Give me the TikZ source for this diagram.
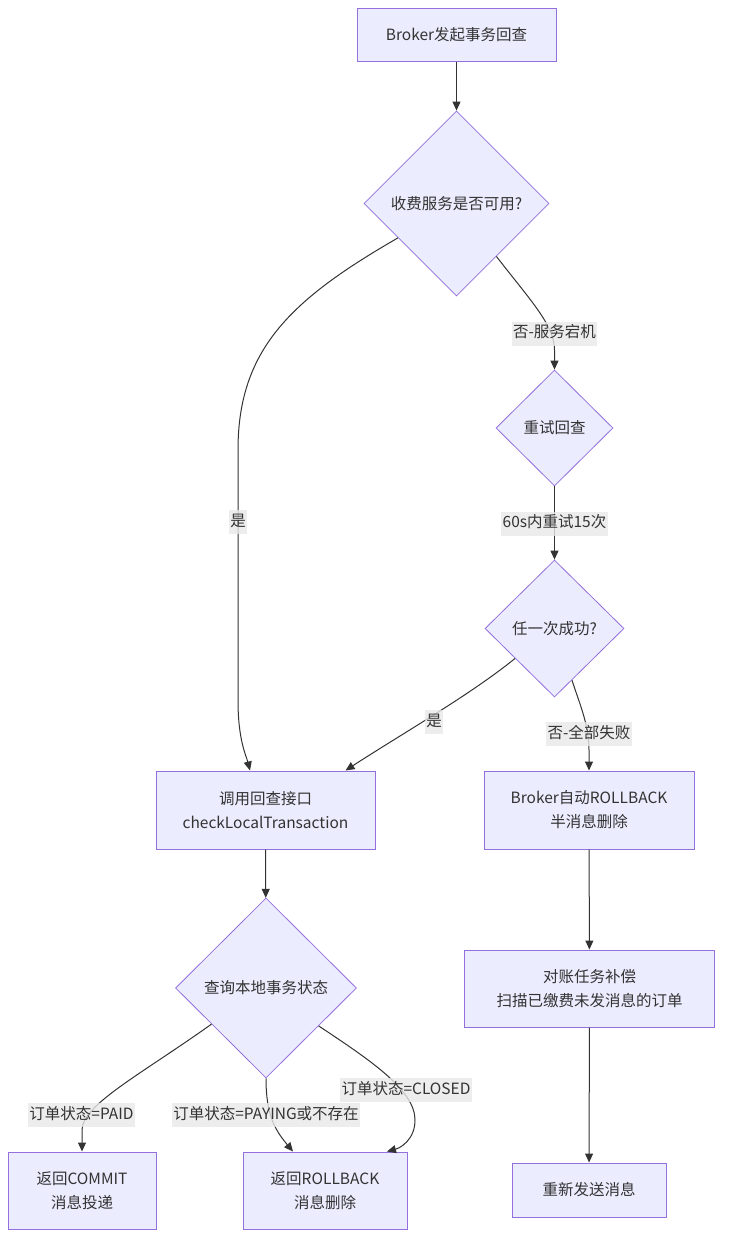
\documentclass[tikz,border=0pt]{standalone}
\usepackage{fontspec}
\setmainfont{Noto Sans CJK SC}
\usetikzlibrary{shapes.geometric,arrows.meta,calc}
\definecolor{nodefill}{HTML}{ECECFF}
\definecolor{nodedraw}{HTML}{9370DB}
\definecolor{edgecol}{HTML}{333333}
\definecolor{lblbg}{HTML}{E8E8E8}
\definecolor{txt}{HTML}{333333}
\tikzset{
  base/.style={fill=nodefill, draw=nodedraw, line width=1pt, text=txt, inner sep=0pt, align=center,
    font=\fontsize{15.5pt}{24pt}\selectfont},
  box/.style={base, rectangle},
  dia/.style={base, diamond, line width=0.8pt},
  edge/.style={draw=edgecol, line width=1pt, -{Triangle[length=9pt,width=8pt]}},
  lbl/.style={fill=lblbg, fill opacity=0.8, text opacity=1, text=txt, inner xsep=1.5pt, inner ysep=4.5pt,
    text height=11.5pt, text depth=3.5pt, font=\fontsize{15.5pt}{18pt}\selectfont},
}
\begin{document}
\begin{tikzpicture}[x=1pt,y=-1pt]
\useasboundingbox (0,0) rectangle (730,1250);
% nodes
\node[box, minimum width=199pt, minimum height=53pt] (A) at (456.5,34.5) {Broker发起事务回查};
\node[dia, minimum width=185pt, minimum height=185pt] (B) at (456.5,203.5) {收费服务是否可用?};
\node[dia, minimum width=117pt, minimum height=116pt] (C) at (554.5,428) {重试回查};
\node[dia, minimum width=139pt, minimum height=137pt] (D) at (554.5,628.5) {任一次成功?};
\node[box, minimum width=219pt, minimum height=78pt] (E) at (265.5,810) {调用回查接口\\checkLocalTransaction};
\node[box, minimum width=210pt, minimum height=78pt] (F) at (589,810) {Broker自动ROLLBACK\\半消息删除};
\node[dia, minimum width=181pt, minimum height=180pt] (G) at (266,988) {查询本地事务状态};
\node[box, minimum width=250pt, minimum height=77pt] (H) at (589.5,988.5) {对账任务补偿\\扫描已缴费未发消息的订单};
\node[box, minimum width=148pt, minimum height=77pt] (I) at (82,1190.5) {返回COMMIT\\消息投递};
\node[box, minimum width=164pt, minimum height=77pt] (J) at (325,1190.5) {返回ROLLBACK\\消息删除};
\node[box, minimum width=154pt, minimum height=54pt] (K) at (589,1190) {重新发送消息};
% start points on diamond borders
\coordinate (sBE) at ($(B.south)!0.63!(B.west)$);
\coordinate (sBC) at ($(B.south)!0.43!(B.east)$);
\coordinate (sDE) at ($(D.south)!0.565!(D.west)$);
\coordinate (sDF) at ($(D.south)!0.25!(D.east)$);
\coordinate (sGI) at ($(G.south)!0.6!(G.west)$);
\coordinate (sGJ) at ($(G.south)!0.58!(G.east)$);
% edges
\draw[edge] (A) -- (B);
\draw[edge] (sBE) .. controls (290,300) and (238,350) .. (238,450) -- (238,700) .. controls (238,740) and (246,755) .. ([xshift=-15.5pt]E.north);
\draw[edge] (sBC) .. controls (530,300) and (554.5,325) .. (554.5,350) -- (C.north);
\draw[edge] (C) -- (D);
\draw[edge] (sDE) .. controls (470,695) and (400,735) .. ([xshift=80pt]E.north);
\draw[edge] (sDF) .. controls (580,705) and (589,725) .. (589,750) -- (F.north);
\draw[edge] (E) -- (G);
\draw[edge] (F) -- (H);
\draw[edge] (H) -- (K);
\draw[edge] (sGI) .. controls (140,1075) and (82,1105) .. (82,1130) -- (I.north);
\draw[edge] (G.south) .. controls (266,1115) and (275,1130) .. ([xshift=-32pt]J.north);
\draw[edge] (sGJ) .. controls (370,1060) and (415,1090) .. (415,1120) .. controls (415,1140) and (400,1148) .. ([xshift=62pt]J.north);
% labels
\node[lbl] (l1) at (238,522) {是};
\node[lbl] (l2) at (554.5,333.5) {否-服务宕机};
\node[lbl] (l3) at (554.5,523.5) {60s内重试15次};
\node[lbl] (l4) at (434,722) {是};
\node[lbl] (l5) at (589,734) {否-全部失败};
\node[lbl] (l6) at (81.5,1115) {订单状态=PAID};
\node[lbl] (l7) at (266,1115) {订单状态=PAYING或不存在};
\node[lbl] (l8) at (406,1090) {订单状态=CLOSED};
\end{tikzpicture}
\end{document}
